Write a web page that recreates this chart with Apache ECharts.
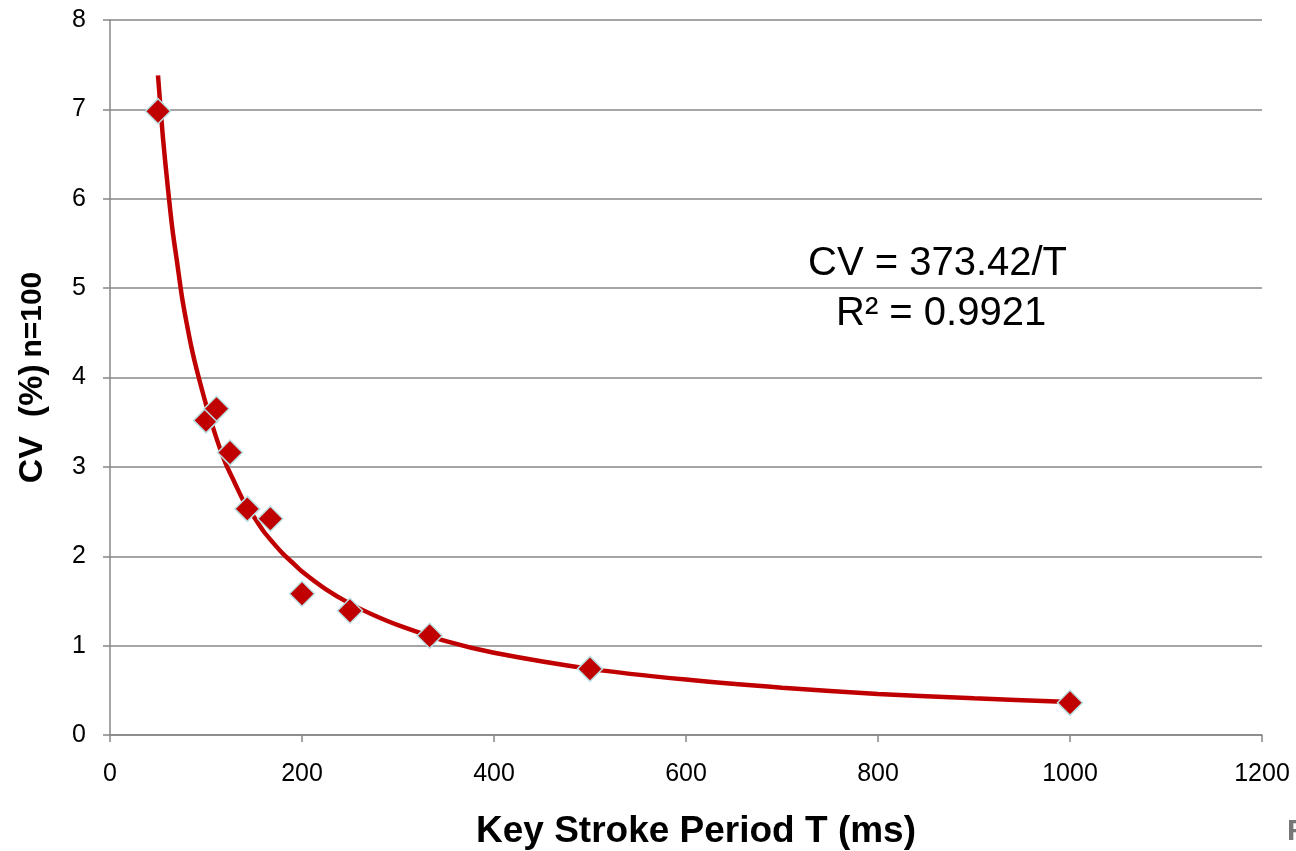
<!DOCTYPE html>
<html lang="en" style="height: 100%">
  <head>
    <meta charset="utf-8" />
  </head>
  <body style="margin: 0; height: 100%">
    <div id="container" style="width: 1296px; height: 851px"></div>
    <script type="text/javascript" src="https://cdn.jsdelivr.net/npm/echarts@6/dist/echarts.min.js"></script>
    <script type="text/javascript">
      // measured points: key stroke period T (ms) vs CV (%)
      var periods = [50, 100, 111, 125, 143, 167, 200, 250, 333, 500, 1000];
      var cvValues = [6.98, 3.52, 3.65, 3.16, 2.53, 2.42, 1.58, 1.39, 1.11, 0.74, 0.36];

      // trendline
      var trendT = [50, 55, 60, 65, 70, 75, 80, 85, 90, 100, 110, 120, 130, 140, 150, 160, 170, 180, 190, 200, 225, 250, 275, 300, 350, 400, 500, 600, 700, 800, 900, 1000];
      var trendCV = [7.38, 6.7, 6.15, 5.66, 5.28, 4.9, 4.6, 4.33, 4.1, 3.7, 3.35, 3.05, 2.82, 2.6, 2.44, 2.28, 2.15, 2.03, 1.93, 1.83, 1.63, 1.47, 1.34, 1.23, 1.05, 0.92, 0.74, 0.62, 0.53, 0.46, 0.41, 0.37];

      var eqLines = ["CV = 373.42/T", "R\u00b2 = 0.9921"];

      var dom = document.getElementById("container");
      var myChart = echarts.init(dom, null, { renderer: "canvas" });

      var font = "Liberation Sans, Arial, sans-serif";
      var gray = "#878787";

      var option = {
        animation: false,
        backgroundColor: "#ffffff",
        textStyle: { fontFamily: font },
        grid: { left: 110, right: 34, top: 20, bottom: 116, containLabel: false, outerBoundsMode: "none" },
        xAxis: {
          type: "value",
          min: 0,
          max: 1200,
          interval: 200,
          name: "Key Stroke Period T (ms)",
          nameLocation: "middle",
          nameGap: 78,
          nameTextStyle: {
            fontSize: 37,
            fontWeight: "bold",
            color: "#000",
            fontFamily: font,
            padding: [0, 0, 0, 20],
          },
          axisLine: { lineStyle: { color: gray, width: 1.5 } },
          axisTick: { show: true, length: 7, lineStyle: { color: gray, width: 1.5 } },
          axisLabel: {
            fontSize: 25,
            color: "#000",
            margin: 27,
            fontFamily: font,
            formatter: function (v) { return String(v); },
          },
          splitLine: { show: false },
        },
        yAxis: {
          type: "value",
          min: 0,
          max: 8,
          interval: 1,
          name: "{big|CV  (%)}  {small|n=100}",
          nameLocation: "middle",
          nameGap: 60,
          nameRotate: 90,
          nameTextStyle: {
            rich: {
              big: { fontSize: 34, fontWeight: "bold", color: "#000", fontFamily: font },
              small: { fontSize: 30, fontWeight: "bold", color: "#000", fontFamily: font },
            },
          },
          axisLine: { show: true, lineStyle: { color: gray, width: 1.5 } },
          axisTick: { show: true, length: 7, lineStyle: { color: gray, width: 1.5 } },
          axisLabel: { fontSize: 25, color: "#000", margin: 24, fontFamily: font },
          splitLine: { show: true, lineStyle: { color: gray, width: 1.5 } },
        },
        series: [
          {
            type: "line",
            name: "trend",
            data: trendT.map(function (t, i) { return [t, trendCV[i]]; }),
            smooth: 0.3,
            showSymbol: false,
            lineStyle: { color: "#c00000", width: 4.5 },
            z: 2,
          },
          {
            type: "scatter",
            name: "CV",
            data: periods.map(function (t, i) { return [t, cvValues[i]]; }),
            symbol: "diamond",
            symbolSize: [25, 25],
            itemStyle: { color: "#c00000", opacity: 1, borderColor: "#b9e0e4", borderWidth: 1.5 },
            z: 3,
          },
        ],
        graphic: [
          {
            type: "text",
            left: 808,
            top: 244,
            style: { text: eqLines[0], font: "40px " + font, fill: "#000" },
          },
          {
            type: "text",
            left: 836,
            top: 294,
            style: { text: eqLines[1], font: "40px " + font, fill: "#000" },
          },
          {
            type: "text",
            left: 1287,
            top: 817,
            style: { text: "F", font: "bold 30px " + font, fill: "#777" },
          },
        ],
      };

      myChart.setOption(option);
      window.addEventListener("resize", myChart.resize);
    </script>
  </body>
</html>
